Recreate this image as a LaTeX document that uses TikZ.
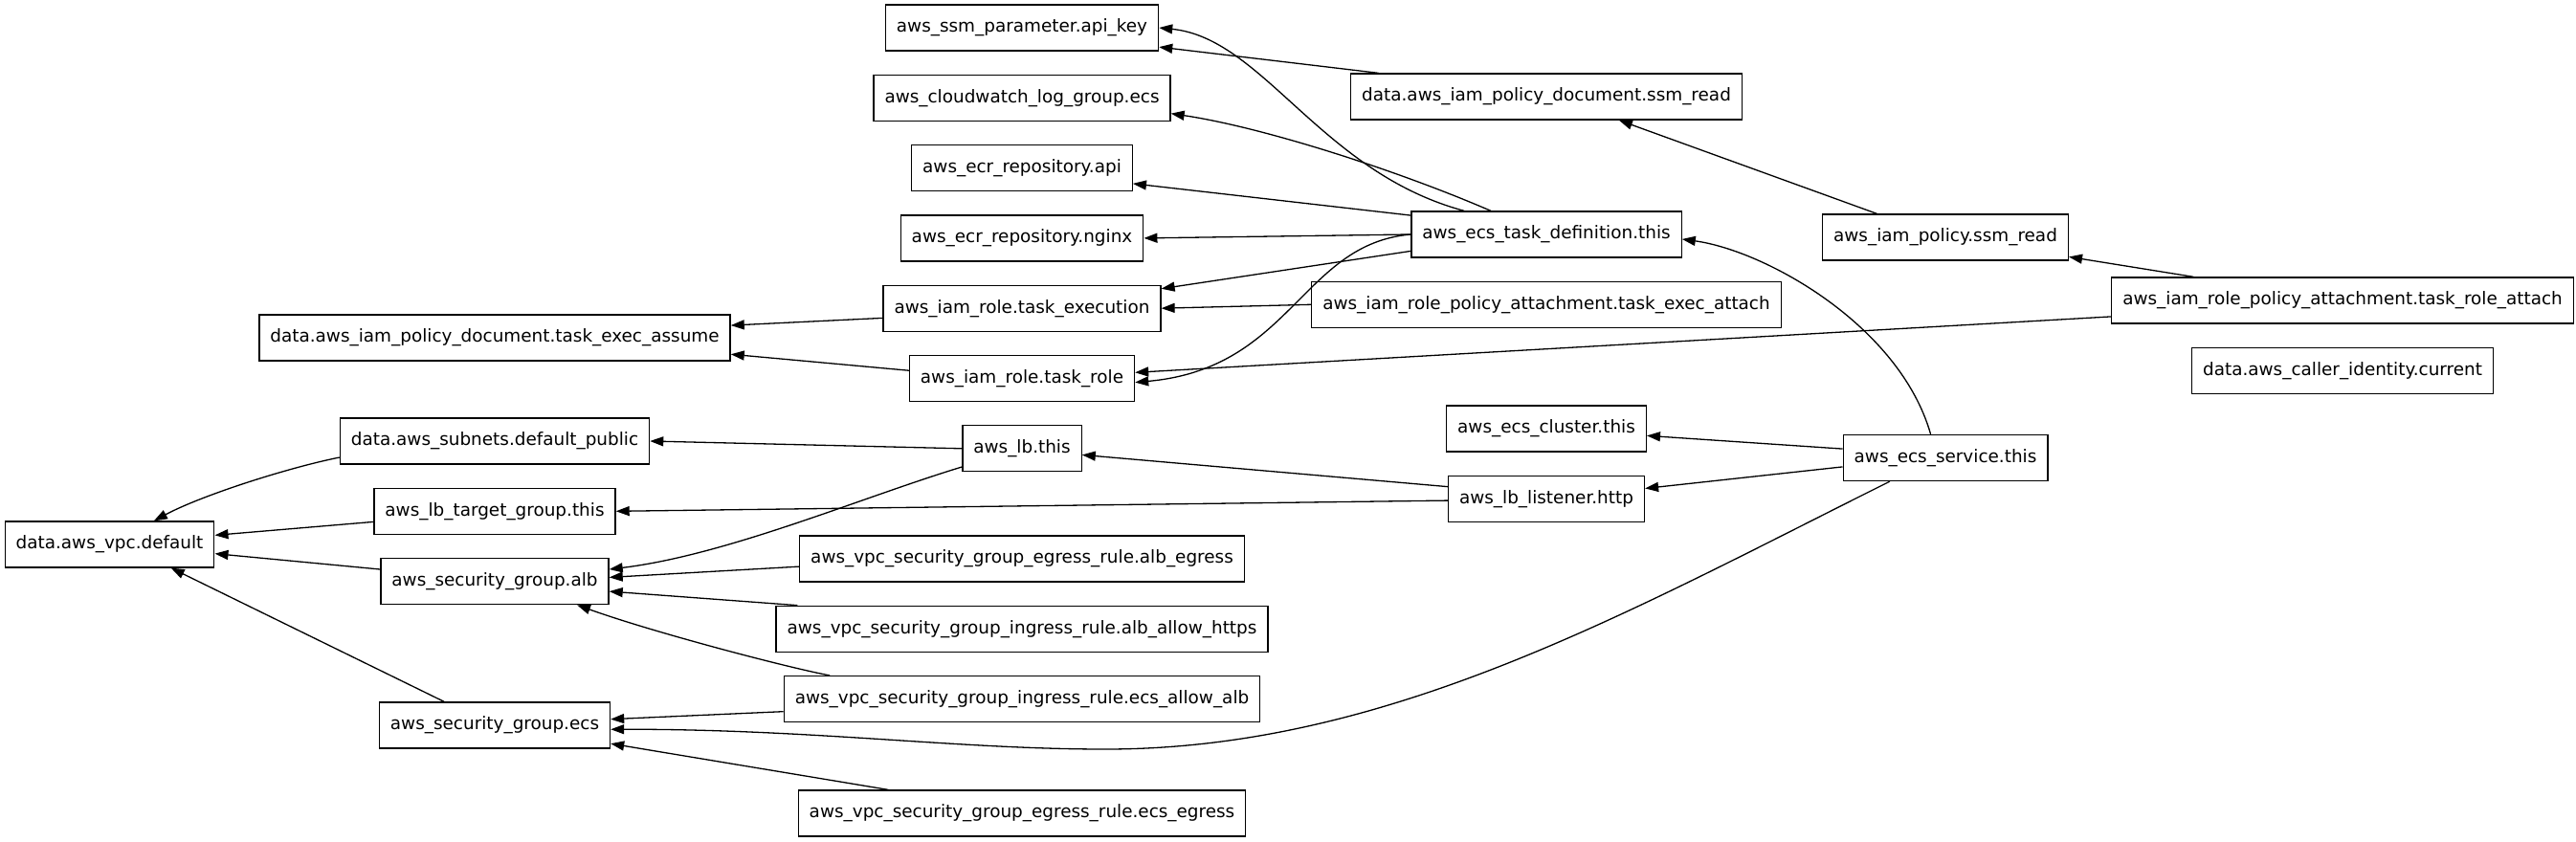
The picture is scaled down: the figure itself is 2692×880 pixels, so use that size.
\documentclass[tikz,border=0pt]{standalone}
\usepackage{fontspec}
\newfontfamily\gvfont{DejaVu Sans}
\usetikzlibrary{arrows.meta,positioning}

\begin{document}
\begin{tikzpicture}[x=1pt, y=-1pt, node distance=24pt, every node/.style={font=\gvfont\fontsize{18.4}{22}\selectfont}]
  \tikzset{res/.style={rectangle, draw=black, line width=1.3pt, minimum height=48pt, inner xsep=11.5pt, inner ysep=2pt}, arr/.style={-{Triangle[length=14pt, width=10pt]}, line width=1.3pt}}
  \useasboundingbox (0,0) rectangle (2692,880);
  \node[res] (apikey) at (1068,29) {aws\_ssm\_parameter.api\_key};
  \node[res, below=of apikey] (cwlog) {aws\_cloudwatch\_log\_group.ecs};
  \node[res, below=of cwlog] (ecrapi) {aws\_ecr\_repository.api};
  \node[res, below=of ecrapi] (ecrnginx) {aws\_ecr\_repository.nginx};
  \node[res, below=of ecrnginx] (taskexec) {aws\_iam\_role.task\_execution};
  \node[res, below=of taskexec] (taskrole) {aws\_iam\_role.task\_role};
  \node[res, below=of taskrole] (lbthis) {aws\_lb.this};
  \node[res] (albegress) at (1068,584) {aws\_vpc\_security\_group\_egress\_rule.alb\_egress};
  \node[res, below=of albegress] (albhttps) {aws\_vpc\_security\_group\_ingress\_rule.alb\_allow\_https};
  \node[res, below=of albhttps] (ecsallow) {aws\_vpc\_security\_group\_ingress\_rule.ecs\_allow\_alb};
  \node[res] (ecsegress) at (1068,850) {aws\_vpc\_security\_group\_egress\_rule.ecs\_egress};
  \node[res] (assume) at (517,353) {data.aws\_iam\_policy\_document.task\_exec\_assume};
  \node[res] (subnets) at (517,461) {data.aws\_subnets.default\_public};
  \node[res, below=of subnets] (tg) {aws\_lb\_target\_group.this};
  \node[res, below=of tg] (sgalb) {aws\_security\_group.alb};
  \node[res] (sgecs) at (517,758) {aws\_security\_group.ecs};
  \node[res] (vpc) at (114.5,569) {data.aws\_vpc.default};
  \node[res] (ssmdoc) at (1616,101) {data.aws\_iam\_policy\_document.ssm\_read};
  \node[res] (taskdef) at (1616,245) {aws\_ecs\_task\_definition.this};
  \node[res, below=of taskdef] (execattach) {aws\_iam\_role\_policy\_attachment.task\_exec\_attach};
  \node[res] (cluster) at (1616,448) {aws\_ecs\_cluster.this};
  \node[res, below=of cluster] (listener) {aws\_lb\_listener.http};
  \node[res] (policy) at (2033,248) {aws\_iam\_policy.ssm\_read};
  \node[res] (service) at (2033,478.5) {aws\_ecs\_service.this};
  \node[res] (roleattach) at (2448,314) {aws\_iam\_role\_policy\_attachment.task\_role\_attach};
  \node[res, below=of roleattach] (caller) {data.aws\_caller\_identity.current};
  \coordinate (dip) at (1155,783);
  \draw[arr] (taskdef.164) .. controls (1380,180) and (1320,40) .. (apikey.east);
  \draw[arr] (ssmdoc.172.5) -- (apikey.-8);
  \draw[arr] (taskdef.157) .. controls (1460,178) and (1320,133) .. (cwlog.-6);
  \draw[arr] (taskdef.172.6) -- (ecrapi.-8.5);
  \draw[arr] (taskdef.west) -- (ecrnginx.east);
  \draw[arr] (taskdef.187.6) -- (taskexec.8);
  \draw[arr] (taskdef.west) .. controls (1360,255) and (1350,385) .. (taskrole.-2);
  \draw[arr] (execattach.west) -- (taskexec.east);
  \draw[arr] (roleattach.184) -- (taskrole.3);
  \draw[arr] (roleattach.171) -- (policy.-9);
  \draw[arr] (policy.161) -- (ssmdoc.-18);
  \draw[arr] (taskexec.184) -- (assume.3.8);
  \draw[arr] (taskrole.176) -- (assume.-4);
  \draw[arr] (service.122) .. controls (1985,340) and (1845,262) .. (taskdef.-2.3);
  \draw[arr] (service.175.8) -- (cluster.-4.4);
  \draw[arr] (service.185.8) -- (listener.6.2);
  \draw[arr] (service.203) .. controls (1700,640) and (1450,783) .. (dip) .. controls (1000,783) and (850,762) .. (sgecs.-2);
  \draw[arr] (listener.173.5) -- (lbthis.-6.7);
  \draw[arr] (listener.181) -- (tg.0.6);
  \draw[arr] (lbthis.west) -- (subnets.east);
  \draw[arr] (lbthis.197) .. controls (900,520) and (760,580) .. (sgalb.6);
  \draw[arr] (subnets.186) .. controls (300,489) and (210,518) .. (vpc.28);
  \draw[arr] (tg.185.5) -- (vpc.5.6);
  \draw[arr] (sgalb.174.9) -- (vpc.-5.7);
  \draw[arr] (sgecs.155.2) -- (vpc.-21.4);
  \draw[arr] (albegress.182.3) -- (sgalb.2.1);
  \draw[arr] (albhttps.174.6) -- (sgalb.-5.9);
  \draw[arr] (ecsallow.173) .. controls (820,697) and (680,660) .. (sgalb.-16.7);
  \draw[arr] (ecsallow.183.2) -- (sgecs.3.5);
  \draw[arr] (ecsegress.170.9) -- (sgecs.-9.4);
\end{tikzpicture}
\end{document}
